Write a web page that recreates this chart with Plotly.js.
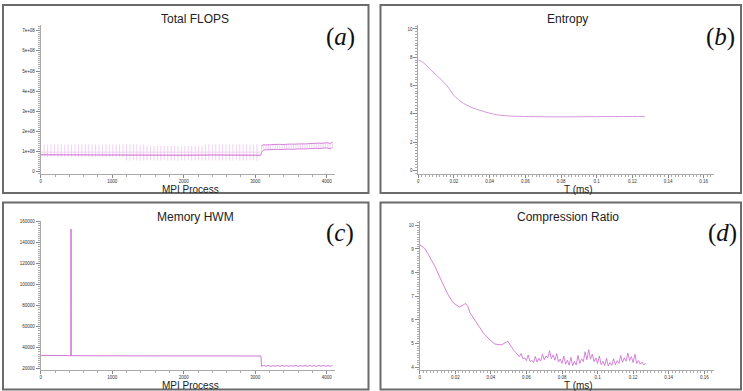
<!DOCTYPE html>
<html><head><meta charset="utf-8">
<script src="https://cdn.plot.ly/plotly-3.0.1.min.js"></script>
<style>html,body{margin:0;padding:0;background:#fff}#chart{width:743px;height:391px}</style>
</head><body><div id="chart"></div>
<script>
// ---------- (a) Total FLOPS (values in units of 1e8) ----------
const FLOPS_UNIT = 1e8;
const flopsSpikeX = [0,48,96,144,192,240,288,336,384,432,480,528,576,624,672,720,768,816,864,912,960,1008,1056,1104,1152,1200,1248,1296,1344,1392,1440,1488,1536,1584,1632,1680,1728,1776,1824,1872,1920,1968,2016,2064,2112,2160,2208,2256,2304,2352,2400,2448,2496,2544,2592,2640,2688,2736,2784,2832,2880,2928,2976,3024];
const flopsSpikeHigh = [1.35,1.36,1.34,1.36,1.35,1.36,1.37,1.35,1.36,1.34,1.36,1.35,1.36,1.35,1.37,1.36,1.35,1.36,1.34,1.36,1.35,1.36,1.35,1.36,1.35,
  1.36,1.35,1.36,1.37,1.35,1.36,
  1.28,1.29,1.27,1.28,1.29,1.28,1.27,1.28,1.29,1.28,1.27,1.28,1.28,1.29,1.27,1.28,1.29,
  1.35,1.36,1.34,1.36,1.35,1.36,1.37,1.35,1.36,1.34,1.36,1.35,1.36,1.35,1.34,1.36];
const flopsSpikeLow = [0.74,0.75,0.73,0.74,0.75,0.74,0.73,0.75,0.74,0.74,0.75,0.73,0.74,0.75,0.74,0.73,0.74,0.75,0.74,0.73,0.74,0.75,0.74,0.74,0.73,
  0.56,0.55,0.57,0.56,0.55,0.56,0.57,0.56,0.55,0.56,0.56,0.57,0.55,0.56,0.56,0.55,0.57,0.56,0.56,0.55,0.56,0.57,0.56,0.55,0.56,0.56,0.57,0.55,0.56,0.56,0.55,0.56,0.57,0.56,0.55,0.56,0.56,0.57,0.55];
const flopsBaseX = [0,400,800,1200,1600,2000,2400,2800,3080];
const flopsBaseY = [0.84,0.83,0.84,0.83,0.83,0.82,0.83,0.82,0.82];
const flopsHazeX = [0,3072];
const flopsHazeY = [0.97,0.97];
const flopsBandX = [3088,3120,3152,3184,3216,3248,3280,3312,3344,3376,3408,3440,3472,3504,3536,3568,3600,3632,3664,3696,3728,3760,3792,3824,3856,3888,3920,3952,3984,4016,4048,4080];
const flopsBandUpper = [1.30,1.34,1.33,1.35,1.34,1.35,1.36,1.35,1.36,1.35,1.37,1.36,1.37,1.36,1.38,1.37,1.38,1.37,1.39,1.38,1.39,1.40,1.39,1.41,1.40,1.42,1.41,1.43,1.42,1.44,1.40,1.47];
const flopsBandLower = [0.95,1.08,1.09,1.08,1.10,1.09,1.10,1.11,1.10,1.11,1.12,1.11,1.12,1.11,1.13,1.12,1.13,1.12,1.14,1.13,1.14,1.15,1.14,1.15,1.16,1.15,1.17,1.16,1.18,1.17,1.13,1.20];
const flopsTickVals = [0,1e8,2e8,3e8,4e8,5e8,6e8,7e8];
const flopsTickText = ['0','1e+08','2e+08','3e+08','4e+08','5e+08','6e+08','7e+08'];

// ---------- (b) Entropy ----------
const entT = [0,0.003,0.0066,0.010,0.014,0.0175,0.0196,0.0225,0.0252,0.029,0.0327,0.037,0.042,0.047,0.0514,0.056,0.062,0.07,0.08,0.09,0.1,0.11,0.12,0.127];
const entV = [7.82,7.6,7.15,6.75,6.27,5.75,5.35,5.0,4.75,4.5,4.32,4.15,3.98,3.88,3.84,3.82,3.80,3.79,3.78,3.79,3.80,3.80,3.81,3.80];

// ---------- (c) Memory HWM ----------
const memX = [0,150,423,424,425,800,1200,1600,2000,2400,2800,3080,3088,3120,3152,3184,3216,3248,3280,3312,3344,3376,3408,3440,3472,3504,3536,3568,3600,3632,3664,3696,3728,3760,3792,3824,3856,3888,3920,3952,3984,4016,4048,4080];
const memY = [32700,32500,32400,153000,32400,32300,32200,32200,32100,32100,32100,32100,22300,23000,22400,23100,22300,22900,22400,23000,22300,23100,22400,22900,22300,23000,22400,23100,22300,22900,22400,23000,22300,23100,22400,22900,22300,23000,22400,23100,22300,22900,22400,23000];

// ---------- (d) Compression Ratio ----------
const crT = [0,0.0025,0.0048,0.0086,0.0124,0.0161,0.0189,0.0223,0.0245,0.0258,0.0270,0.0283,0.032,0.0358,0.0395,0.0423,0.0461,0.0485,0.0495,0.0526,0.0556,
  0.056,0.057,0.058,0.059,0.060,0.061,0.062,0.063,0.064,0.065,0.066,0.067,0.068,0.069,0.070,0.071,0.072,0.073,0.074,0.075,0.076,0.077,0.078,0.079,0.080,0.081,0.082,0.083,0.084,0.085,0.086,0.087,0.088,0.089,0.090,0.091,0.092,0.093,0.094,0.095,0.096,0.097,0.098,0.099,0.100,0.101,0.102,0.103,0.104,0.105,0.106,0.107,0.108,0.109,0.110,0.111,0.112,0.113,0.114,0.115,0.116,0.117,0.118,0.119,0.120,0.121,0.122,0.123,0.124,0.125,0.126,0.127];
const crV = [9.18,9.05,8.78,8.25,7.62,7.05,6.72,6.55,6.63,6.70,6.58,6.30,5.88,5.45,5.15,4.98,4.95,5.05,5.10,4.75,4.50,
  4.45,4.58,4.36,4.40,4.28,4.52,4.24,4.30,4.20,4.46,4.22,4.38,4.26,4.55,4.32,4.48,4.40,4.70,4.36,4.52,4.30,4.58,4.22,4.35,4.16,4.48,4.13,4.30,4.09,4.42,4.07,4.25,4.10,4.50,4.16,4.36,4.24,4.66,4.32,4.75,4.34,4.55,4.24,4.40,4.16,4.48,4.11,4.25,4.07,4.38,4.06,4.20,4.08,4.36,4.11,4.28,4.16,4.50,4.21,4.40,4.26,4.60,4.28,4.45,4.20,4.55,4.16,4.28,4.13,4.22,4.10,4.18];

const timeTickVals = [0,0.02,0.04,0.06,0.08,0.1,0.12,0.14,0.16];
const timeTickText = ['0','0.02','0.04','0.06','0.08','0.1','0.12','0.14','0.16'];
const procTickVals = [0,1000,2000,3000,4000];
const procTickText = ['0','1000','2000','3000','4000'];
const memTickVals = [20000,40000,60000,80000,100000,120000,140000,160000];
const memTickText = memTickVals.map(String);

// ---------- build ----------
const W = 743, H = 391;
const px = x => x / W;
const py = y => 1 - y / H;
const scale = a => a.map(v => v * FLOPS_UNIT);

function segs(xs, lo, hi) {
  const X = [], Y = [];
  xs.forEach((x, i) => { X.push(x, x, null); Y.push(lo[i], hi[i], null); });
  return {X, Y};
}
const spikeSeg = segs(flopsSpikeX, scale(flopsSpikeLow), scale(flopsSpikeHigh));
const bandSeg = segs(flopsBandX, scale(flopsBandLower), scale(flopsBandUpper));

const MAG = '#cc66d0', LIGHT = '#e8b4ec';
const traces = [
  {x: spikeSeg.X, y: spikeSeg.Y, mode: 'lines', line: {color: LIGHT, width: 0.6}, xaxis: 'x', yaxis: 'y'},
  {x: flopsHazeX, y: scale(flopsHazeY), mode: 'lines', line: {color: '#f0cff2', width: 1}, xaxis: 'x', yaxis: 'y'},
  {x: flopsBaseX, y: scale(flopsBaseY), mode: 'lines', line: {color: MAG, width: 1}, xaxis: 'x', yaxis: 'y'},
  {x: bandSeg.X, y: bandSeg.Y, mode: 'lines', line: {color: LIGHT, width: 0.6}, xaxis: 'x', yaxis: 'y'},
  {x: [flopsBaseX[flopsBaseX.length-1]].concat(flopsBandX), y: scale([flopsBaseY[flopsBaseY.length-1]].concat(flopsBandLower)), mode: 'lines', line: {color: MAG, width: 0.8}, xaxis: 'x', yaxis: 'y'},
  {x: flopsBandX, y: scale(flopsBandUpper), mode: 'lines', line: {color: MAG, width: 0.8}, xaxis: 'x', yaxis: 'y'},
  {x: entT, y: entV, mode: 'lines', line: {color: '#d597da', width: 1, shape: 'spline'}, xaxis: 'x2', yaxis: 'y2'},
  {x: memX, y: memY, mode: 'lines', line: {color: MAG, width: 0.9}, xaxis: 'x3', yaxis: 'y3'},
  {x: crT, y: crV, mode: 'lines', line: {color: MAG, width: 0.8}, xaxis: 'x4', yaxis: 'y4'}
];

const tickFont = {size: 4.5, color: '#333', family: 'Liberation Sans, Arial, sans-serif'};
function ax(extra, minorDtick) {
  return Object.assign({
    showline: true, linecolor: '#aaa', linewidth: 1,
    ticks: 'outside', ticklen: 3, tickcolor: '#888', tickwidth: 1,
    showgrid: false, zeroline: false, tickfont: tickFont, fixedrange: true,
    tickmode: 'array',
    minor: {ticks: 'outside', ticklen: 2, tickcolor: '#aaa', dtick: minorDtick, showgrid: false}
  }, extra);
}

const yTop = [py(174), py(25)], yBot = [py(370), py(221)];
const layout = {
  width: W, height: H, margin: {l: 0, r: 0, t: 0, b: 0},
  paper_bgcolor: '#fff', plot_bgcolor: '#fff', showlegend: false,
  font: {family: 'Liberation Sans, Arial, sans-serif'},
  xaxis: ax({domain: [px(40.7), px(335)], range: [0, 4116], anchor: 'y', tickvals: procTickVals, ticktext: procTickText}, 200),
  yaxis: ax({domain: yTop, range: [-0.114e8, 7.284e8], anchor: 'x', tickvals: flopsTickVals, ticktext: flopsTickText, ticklen: 4}, 1e7),
  xaxis2: ax({domain: [px(418.3), px(713.7)], range: [0, 0.1656], anchor: 'y2', tickvals: timeTickVals, ticktext: timeTickText}, 0.002),
  yaxis2: ax({domain: yTop, range: [-0.26, 10.28], anchor: 'x2', tickvals: [0,2,4,6,8,10], ticktext: ['0','2','4','6','8','10'], ticklen: 4}, 0.2),
  xaxis3: ax({domain: [px(40.7), px(335)], range: [0, 4116], anchor: 'y3', tickvals: procTickVals, ticktext: procTickText}, 200),
  yaxis3: ax({domain: yBot, range: [18762, 160667], anchor: 'x3', tickvals: memTickVals, ticktext: memTickText, ticklen: 4}, 2000),
  xaxis4: ax({domain: [px(419.7), px(713.7)], range: [0, 0.16528], anchor: 'y4', tickvals: timeTickVals, ticktext: timeTickText}, 0.002),
  yaxis4: ax({domain: yBot, range: [3.886, 10.18], anchor: 'x4', tickvals: [4,5,6,7,8,9,10], ticktext: ['4','5','6','7','8','9','10'], ticklen: 4}, 0.1),
  shapes: [
    [3, 5, 368.5, 193], [380.5, 5, 741, 193], [3, 202.5, 368.5, 389.5], [380.5, 202.5, 741, 389.5]
  ].map(r => ({type: 'rect', xref: 'paper', yref: 'paper', x0: px(r[0]), x1: px(r[2]), y0: py(r[3]), y1: py(r[1]), line: {color: '#6b6b6b', width: 2}})),
  annotations: []
};

const titleFont = {size: 12, color: '#222', family: 'Liberation Sans, Arial, sans-serif'};
const axFont = {size: 10, color: '#222', family: 'Liberation Sans, Arial, sans-serif'};
const labFont = {size: 25, color: '#111', family: 'Liberation Serif, DejaVu Serif, serif'};
const ann = (text, x, y, font) => ({text, x: px(x), y: py(y), xref: 'paper', yref: 'paper', xanchor: 'center', yanchor: 'middle', showarrow: false, font});
layout.annotations.push(
  ann('Total FLOPS', 195, 19, titleFont),
  ann('Entropy', 567, 19, titleFont),
  ann('Memory HWM', 195, 216.5, titleFont),
  ann('Compression Ratio', 567.5, 216.5, titleFont),
  ann('MPI Process', 190, 189, axFont),
  ann('T (ms)', 578.5, 189, axFont),
  ann('MPI Process', 190, 385, axFont),
  ann('T (ms)', 578.5, 385, axFont),
  ann('(<i>a</i>)', 340, 37, labFont),
  ann('(<i>b</i>)', 720, 37, labFont),
  ann('(<i>c</i>)', 340, 233, labFont),
  ann('(<i>d</i>)', 722, 233, labFont)
);

Plotly.newPlot('chart', traces, layout, {staticPlot: true, displayModeBar: false});
</script>
</body></html>
